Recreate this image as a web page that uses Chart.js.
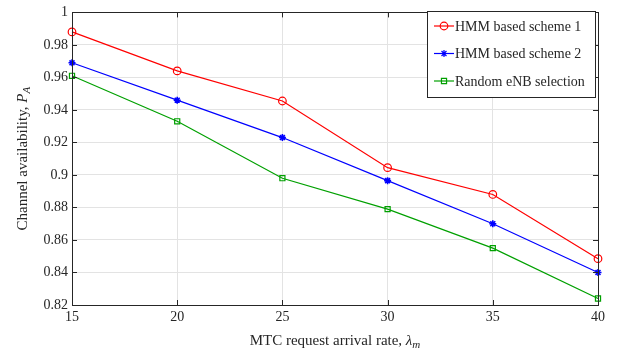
<!DOCTYPE html>
<html>
<head>
<meta charset="utf-8">
<script src="https://cdn.jsdelivr.net/npm/chart.js@4"></script>
<style>
  html, body { margin: 0; padding: 0; background: #fff; }
  #wrap { width: 618px; height: 354px; }
</style>
</head>
<body>
<div id="wrap"><canvas id="linechart"></canvas></div>
<script>
// data
const rates = [15, 20, 25, 30, 35, 40];
const scheme1 = [0.988, 0.964, 0.9455, 0.9045, 0.888, 0.8485];
const scheme2 = [0.969, 0.946, 0.923, 0.8965, 0.870, 0.840];
const randomSel = [0.961, 0.933, 0.898, 0.879, 0.855, 0.824];
const yTicks = [0.82, 0.84, 0.86, 0.88, 0.9, 0.92, 0.94, 0.96, 0.98, 1];
const seriesNames = ['HMM based scheme 1', 'HMM based scheme 2', 'Random eNB selection'];

const FONT = '"Liberation Serif", "DejaVu Serif", serif';
const TXT = '#262626';

function pts(vals) {
  return vals.map((v, i) => ({ x: rates[i], y: v }));
}

// box, inner ticks, axis titles and legend, MATLAB style
const decor = {
  id: 'decor',
  afterDraw(chart) {
    const c = chart.ctx, a = chart.chartArea;
    const xs = chart.scales.x, ys = chart.scales.y;
    c.save();
    c.strokeStyle = '#262626';
    c.lineWidth = 1;
    c.beginPath();
    for (const t of rates) {
      const px = Math.round(xs.getPixelForValue(t)) + 0.5;
      c.moveTo(px, a.bottom); c.lineTo(px, a.bottom - 5);
      c.moveTo(px, a.top); c.lineTo(px, a.top + 5);
    }
    for (const t of yTicks) {
      const py = Math.round(ys.getPixelForValue(t)) + 0.5;
      c.moveTo(a.left, py); c.lineTo(a.left + 5, py);
      c.moveTo(a.right, py); c.lineTo(a.right - 5, py);
    }
    c.stroke();
    c.strokeRect(Math.round(a.left) + 0.5, Math.round(a.top) + 0.5,
      Math.round(a.right - a.left), Math.round(a.bottom - a.top));

    // x title
    c.fillStyle = TXT;
    c.textBaseline = 'alphabetic';
    const xt1 = 'MTC request arrival rate, ';
    c.font = '15px ' + FONT;
    const w1 = c.measureText(xt1).width;
    c.font = 'italic 15px ' + FONT;
    const w2 = c.measureText('λ').width;
    c.font = 'italic 11px ' + FONT;
    const w3 = c.measureText('m').width;
    let x0 = (a.left + a.right) / 2 - (w1 + w2 + w3) / 2;
    const yb = 345;
    c.font = '15px ' + FONT;
    c.fillText(xt1, x0, yb);
    c.font = 'italic 15px ' + FONT;
    c.fillText('λ', x0 + w1, yb);
    c.font = 'italic 11px ' + FONT;
    c.fillText('m', x0 + w1 + w2, yb + 3);

    // y title (rotated)
    c.save();
    c.translate(27, (a.top + a.bottom) / 2);
    c.rotate(-Math.PI / 2);
    const yt1 = 'Channel availability, ';
    c.font = '15px ' + FONT;
    const v1 = c.measureText(yt1).width;
    c.font = 'italic 15px ' + FONT;
    const v2 = c.measureText('P').width;
    c.font = 'italic 11px ' + FONT;
    const v3 = c.measureText('A').width;
    let s0 = -(v1 + v2 + v3) / 2;
    c.font = '15px ' + FONT;
    c.fillText(yt1, s0, 0);
    c.font = 'italic 15px ' + FONT;
    c.fillText('P', s0 + v1, 0);
    c.font = 'italic 11px ' + FONT;
    c.fillText('A', s0 + v1 + v2, 3);
    c.restore();

    // legend
    const lx = 427, ly = 11, lw = 168, lh = 86;
    c.fillStyle = '#fff';
    c.fillRect(lx, ly, lw, lh);
    c.strokeStyle = '#262626';
    c.lineWidth = 1;
    c.strokeRect(lx + 0.5, ly + 0.5, lw, lh);
    c.font = '14px ' + FONT;
    c.textBaseline = 'middle';
    chart.data.datasets.forEach((ds, i) => {
      const cy = ly + 15 + i * 27.5;
      c.strokeStyle = ds.borderColor;
      c.lineWidth = 1.2;
      c.beginPath();
      c.moveTo(lx + 7, cy); c.lineTo(lx + 27, cy);
      c.stroke();
      c.fillStyle = 'rgba(0,0,0,0)';
      Chart.helpers.drawPoint(c, {
        pointStyle: ds.pointStyle, radius: ds.pointRadius, rotation: 0, borderWidth: 1.2
      }, lx + 17, cy);
      c.fillStyle = TXT;
      c.fillText(ds.label, lx + 28, cy + 1);
    });
    c.restore();
  }
};

new Chart(document.getElementById('linechart'), {
  type: 'line',
  data: {
    datasets: [
      {
        label: seriesNames[0], data: pts(scheme1),
        borderColor: '#ff0000', backgroundColor: 'rgba(0,0,0,0)',
        pointStyle: 'circle', pointRadius: 3.8, pointBorderWidth: 1.2, borderWidth: 1.2, clip: false
      },
      {
        label: seriesNames[1], data: pts(scheme2),
        borderColor: '#0000ff', backgroundColor: 'rgba(0,0,0,0)',
        pointStyle: 'star', pointRadius: 3.5, pointBorderWidth: 1.6, borderWidth: 1.2, clip: false
      },
      {
        label: seriesNames[2], data: pts(randomSel),
        borderColor: '#00a000', backgroundColor: 'rgba(0,0,0,0)',
        pointStyle: 'rect', pointRadius: 3.6, pointBorderWidth: 1.2, borderWidth: 1.2, clip: false
      }
    ]
  },
  options: {
    responsive: true,
    maintainAspectRatio: false,
    animation: false,
    layout: { padding: { top: 6, right: 20, left: 0, bottom: 0 } },
    plugins: { legend: { display: false }, tooltip: { enabled: false } },
    scales: {
      x: {
        type: 'linear', min: 15, max: 40,
        afterBuildTicks: s => { s.ticks = rates.map(v => ({ value: v })); },
        afterFit: s => { s.height = 49; },
        grid: { color: '#e3e3e3', drawTicks: false },
        border: { display: false },
        ticks: { color: TXT, font: { family: FONT, size: 14 }, padding: 4, maxRotation: 0 }
      },
      y: {
        type: 'linear', min: 0.82, max: 1,
        afterBuildTicks: s => { s.ticks = yTicks.map(v => ({ value: v })); },
        afterFit: s => { s.width = 72; },
        grid: { color: '#e3e3e3', drawTicks: false },
        border: { display: false },
        ticks: { color: TXT, font: { family: FONT, size: 14 }, padding: 4,
          callback: v => String(Math.round(v * 100) / 100) }
      }
    }
  },
  plugins: [decor]
});
</script>
</body>
</html>
